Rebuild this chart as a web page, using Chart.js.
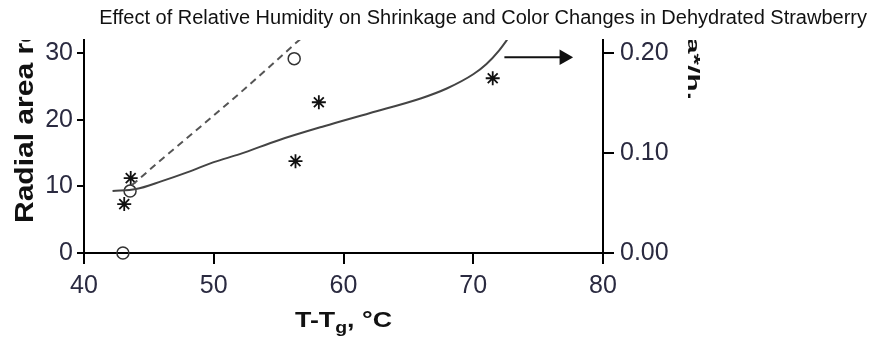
<!DOCTYPE html>
<html>
<head>
<meta charset="utf-8">
<script src="https://cdn.jsdelivr.net/npm/chart.js@4.4.1/dist/chart.umd.min.js"></script>
<style>
  html, body { margin: 0; padding: 0; background: #fff; }
  #wrap { width: 871px; height: 345px; }
</style>
</head>
<body>
<div id="wrap"><canvas id="chart" width="871" height="345"></canvas></div>
<script>
// Axis ranges / ticks
const X_TICKS = [40, 50, 60, 70, 80];
const LEFT_TICKS = [0, 10, 20, 30];
const RIGHT_TICKS = [0, 0.1, 0.2];
const LEFT_MAX = 32;
const RIGHT_MAX = 0.2 * LEFT_MAX / 30; // right axis 0.20 lines up with left 30

// Open circles + dashed curve (left axis, radial area)
const circleX = [43.0, 43.55, 56.2];
const circleY = [0, 9.3, 29.2];
const dashX = [43.7, 46.0, 49.0, 52.0, 54.2, 56.3, 57.2];
const dashY = [10.2, 14.1, 19.0, 24.0, 27.8, 31.5, 33.0];

// Stars + solid curve (right axis, a*/h.)
const starX = [43.1, 43.6, 56.3, 58.1, 71.5];
const starY = [0.049, 0.075, 0.092, 0.151, 0.175];
const solidX = [42.2, 44.0, 46.0, 48.0, 50.0, 52.0, 55.0, 58.5, 62.0, 66.0, 68.0, 70.0, 71.0, 72.0, 72.8];
const solidY = [0.062, 0.064, 0.072, 0.081, 0.091, 0.099, 0.113, 0.127, 0.140, 0.155, 0.165, 0.179, 0.189, 0.203, 0.217];

// arrow pointing to the right axis
const arrowX = [72.4, 77.0];
const arrowY = [0.196, 0.196];

const TITLE = 'Effect of Relative Humidity on Shrinkage and Color Changes in Dehydrated Strawberry';
const LEFT_TITLE = 'Radial area reduction, %';
const RIGHT_TITLE = 'a*/h.';

const FONT = "'Liberation Sans', Arial, sans-serif";
const TICK_COLOR = '#2a2a40';

const pts = (xs, ys) => xs.map((x, i) => ({ x, y: ys[i] }));
const setTicks = vals => scale => { scale.ticks = vals.map(v => ({ value: v })); };

// axis titles drawn by hand (they are cut off at the top in the original figure)
const axisTitles = {
  id: 'axisTitles',
  afterDraw(chart) {
    const { ctx, chartArea } = chart;
    ctx.save();
    ctx.beginPath();
    ctx.rect(0, chartArea.top, chart.width, chart.height);
    ctx.clip();
    ctx.fillStyle = '#111';
    ctx.textBaseline = 'alphabetic';
    ctx.textAlign = 'left';

    // left title
    ctx.save();
    ctx.font = 'bold 25px ' + FONT;
    ctx.translate(33, 223);
    ctx.rotate(-Math.PI / 2);
    ctx.scale(1.2, 1);
    ctx.fillText(LEFT_TITLE, 0, 0);
    ctx.restore();

    // right title
    ctx.save();
    ctx.font = 'bold 16px ' + FONT;
    const rw = ctx.measureText(RIGHT_TITLE).width;
    ctx.translate(688, 37);
    ctx.rotate(Math.PI / 2);
    ctx.scale(63 / rw, 1);
    ctx.fillText(RIGHT_TITLE, 0, 0);
    ctx.restore();
    ctx.restore();

    // x title with subscript g
    ctx.save();
    ctx.fillStyle = '#111';
    ctx.textBaseline = 'alphabetic';
    const big = 'bold 22px ' + FONT, small = 'bold 16px ' + FONT;
    ctx.font = big;
    const w1 = ctx.measureText('T-T').width;
    const w3 = ctx.measureText(', °C').width;
    ctx.font = small;
    const w2 = ctx.measureText('g').width;
    const sx = 97 / (w1 + w2 + w3);
    ctx.translate(295, 327);
    ctx.scale(sx, 1);
    ctx.font = big;
    ctx.fillText('T-T', 0, 0);
    ctx.font = small;
    ctx.fillText('g', w1, 6);
    ctx.font = big;
    ctx.fillText(', °C', w1 + w2, 0);
    ctx.restore();
  }
};

new Chart(document.getElementById('chart'), {
  type: 'scatter',
  data: {
    datasets: [
      {
        type: 'line',
        data: pts(dashX, dashY),
        yAxisID: 'y',
        borderColor: '#555',
        borderWidth: 2,
        borderDash: [7, 5],
        pointRadius: 0,
        tension: 0
      },
      {
        type: 'line',
        data: pts(solidX, solidY),
        yAxisID: 'y2',
        borderColor: '#444',
        borderWidth: 2,
        pointRadius: 0,
        cubicInterpolationMode: 'monotone'
      },
      {
        data: pts(circleX, circleY),
        yAxisID: 'y',
        pointStyle: 'circle',
        pointRadius: 6,
        borderColor: '#333',
        borderWidth: 1.5,
        backgroundColor: 'rgba(255,255,255,0)',
        clip: false
      },
      {
        data: pts(starX, starY),
        yAxisID: 'y2',
        pointStyle: 'star',
        pointRadius: 7,
        borderColor: '#111',
        borderWidth: 1.8,
        clip: false
      },
      {
        type: 'line',
        data: pts(arrowX, arrowY),
        yAxisID: 'y2',
        borderColor: '#111',
        borderWidth: 2,
        pointStyle: 'triangle',
        pointRotation: 90,
        pointRadius: [0, 7],
        backgroundColor: '#111',
        pointBorderColor: '#111',
        pointBackgroundColor: '#111',
        clip: false
      }
    ]
  },
  options: {
    responsive: false,
    animation: false,
    events: [],
    layout: { padding: { left: 0, right: 4, top: 0, bottom: 0 } },
    plugins: {
      legend: { display: false },
      tooltip: { enabled: false },
      title: {
        display: true,
        text: TITLE,
        align: 'end',
        color: '#111',
        font: { family: FONT, size: 20, weight: 'normal', lineHeight: 1.2 },
        padding: { top: 6, bottom: 10 }
      }
    },
    scales: {
      x: {
        type: 'linear',
        position: 'bottom',
        min: 40,
        max: 80,
        afterBuildTicks: setTicks(X_TICKS),
        afterFit: s => { s.height = 92; },
        border: { display: true, color: '#000', width: 2 },
        grid: { drawOnChartArea: false, tickLength: 11, color: '#000', lineWidth: 2 },
        ticks: { color: TICK_COLOR, font: { family: FONT, size: 25 }, padding: 7, maxRotation: 0 }
      },
      y: {
        type: 'linear',
        position: 'left',
        min: 0,
        max: LEFT_MAX,
        afterBuildTicks: setTicks(LEFT_TICKS),
        afterFit: s => { s.width = 84; },
        border: { display: true, color: '#000', width: 2 },
        grid: { drawOnChartArea: false, tickLength: 7, color: '#000', lineWidth: 2 },
        ticks: { color: TICK_COLOR, font: { family: FONT, size: 25 }, padding: 4 }
      },
      y2: {
        type: 'linear',
        position: 'right',
        min: 0,
        max: RIGHT_MAX,
        afterBuildTicks: setTicks(RIGHT_TICKS),
        afterFit: s => { s.width = 264; },
        border: { display: true, color: '#000', width: 2 },
        grid: { drawOnChartArea: false, tickLength: 11, color: '#000', lineWidth: 2 },
        ticks: {
          color: TICK_COLOR,
          font: { family: FONT, size: 25 },
          padding: 6,
          callback: v => v.toFixed(2)
        }
      }
    }
  },
  plugins: [axisTitles]
});
</script>
</body>
</html>
